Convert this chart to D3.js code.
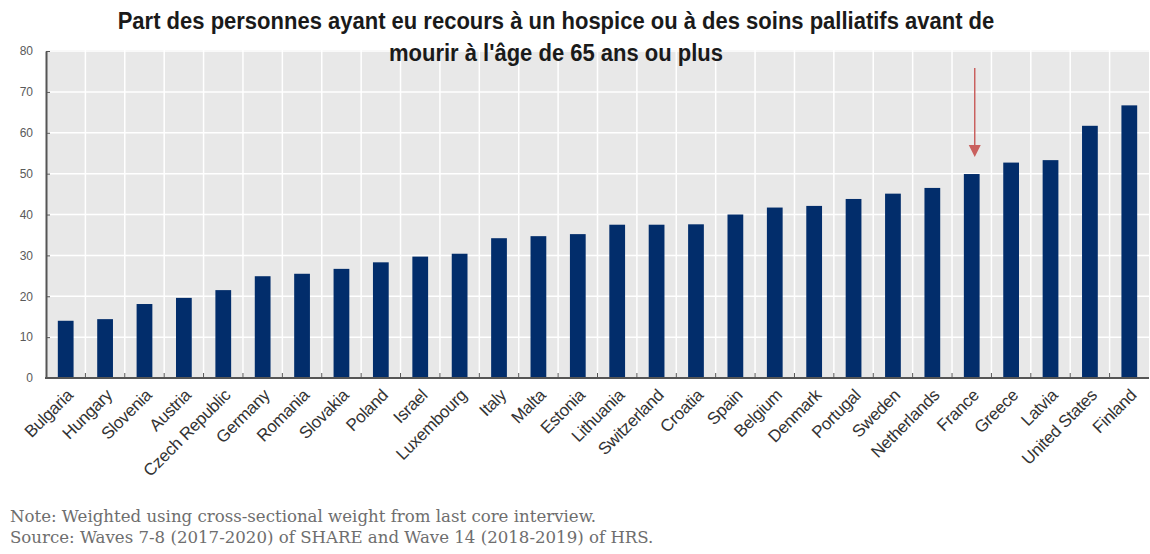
<!DOCTYPE html>
<html>
<head>
  <meta charset="utf-8">
  <title>Hospice / soins palliatifs</title>
  <style>
    body { margin: 0; background: #fff; }
    svg { display: block; }
  </style>
</head>
<body>
  <svg id="chart"></svg>

  <script src="https://d3js.org/d3.v7.min.js"></script>
  <script>
    // données
    const countries = ["Bulgaria", "Hungary", "Slovenia", "Austria", "Czech Republic", "Germany", "Romania",
      "Slovakia", "Poland", "Israel", "Luxembourg", "Italy", "Malta", "Estonia", "Lithuania", "Switzerland",
      "Croatia", "Spain", "Belgium", "Denmark", "Portugal", "Sweden", "Netherlands", "France", "Greece",
      "Latvia", "United States", "Finland"];
    const shares = [14.0, 14.4, 18.1, 19.6, 21.5, 24.9, 25.5, 26.7, 28.3, 29.7, 30.4, 34.2, 34.7, 35.2,
      37.5, 37.5, 37.6, 40.0, 41.7, 42.1, 43.8, 45.1, 46.5, 49.9, 52.7, 53.3, 61.7, 66.7];
    const yTicks = [0, 10, 20, 30, 40, 50, 60, 70, 80];
    const titleLines = ["Part des personnes ayant eu recours à un hospice ou à des soins palliatifs avant de",
      "mourir à l'âge de 65 ans ou plus"];
    const notes = ["Note: Weighted using cross-sectional weight from last core interview.",
      "Source: Waves 7-8 (2017-2020) of SHARE and Wave 14 (2018-2019) of HRS."];
    const highlight = "France";

    const width = 1150, height = 554;
    const plotLeft = 46, plotRight = 1149, plotTop = 50, plotBottom = 378;

    const svg = d3.select("#chart").attr("width", width).attr("height", height);

    const x = d3.scaleBand().domain(countries).range([plotLeft, plotRight]).paddingInner(0.6).paddingOuter(0.3);
    const y = d3.scaleLinear().domain([0, 80]).range([plotBottom, plotTop + 1]);

    // fond
    svg.append("rect").attr("x", plotLeft).attr("y", plotTop)
      .attr("width", plotRight - plotLeft).attr("height", plotBottom - plotTop)
      .attr("fill", "#e8e8e8");

    const bounds = d3.range(countries.length + 1).map(i => plotLeft + i * x.step());

    // grilles
    svg.append("g").selectAll("line").data(yTicks.slice(1)).join("line")
      .attr("x1", plotLeft).attr("x2", plotRight).attr("y1", d => y(d)).attr("y2", d => y(d))
      .attr("stroke", "#fff").attr("stroke-width", 1.5);
    svg.append("g").selectAll("line").data(bounds.slice(1, -1)).join("line")
      .attr("x1", d => d).attr("x2", d => d).attr("y1", plotTop).attr("y2", plotBottom)
      .attr("stroke", "#fff").attr("stroke-width", 1.5);

    // barres
    svg.append("g").selectAll("rect").data(shares).join("rect")
      .attr("x", (d, i) => x(countries[i]))
      .attr("y", d => y(d))
      .attr("width", x.bandwidth())
      .attr("height", d => y(0) - y(d))
      .attr("fill", "#022d6b");

    // axe y
    const yAxis = svg.append("g").attr("transform", `translate(${plotLeft},0)`)
      .call(d3.axisLeft(y).tickValues(yTicks).tickSizeInner(-4).tickSizeOuter(0).tickPadding(13));
    yAxis.select(".domain").attr("stroke", "#555").attr("stroke-width", 2);
    yAxis.selectAll(".tick line").attr("stroke", "#555");
    yAxis.selectAll("text").attr("fill", "#5a5a5a")
      .style("font-family", "'Liberation Sans', Arial, sans-serif").style("font-size", "12px");

    // axe x
    svg.append("line").attr("x1", plotLeft - 1).attr("x2", plotRight).attr("y1", plotBottom).attr("y2", plotBottom)
      .attr("stroke", "#555").attr("stroke-width", 2);
    svg.append("g").selectAll("line").data(bounds.slice(1, -1)).join("line")
      .attr("x1", d => d).attr("x2", d => d).attr("y1", plotBottom - 5).attr("y2", plotBottom)
      .attr("stroke", "#555");

    svg.append("g").selectAll("text").data(countries).join("text")
      .attr("transform", d => `translate(${x(d) + x.bandwidth() / 2 + 4},${plotBottom + 14}) rotate(-45)`)
      .attr("text-anchor", "end")
      .attr("dy", "0.35em")
      .attr("fill", "#333")
      .style("font-family", "'Liberation Sans', Arial, sans-serif")
      .style("font-size", "17px")
      .style("letter-spacing", "-0.3px")
      .text(d => d);

    // flèche sur la France
    const ax = x(highlight) + x.bandwidth() / 2 + 3;
    svg.append("line").attr("x1", ax).attr("x2", ax).attr("y1", 68).attr("y2", 146)
      .attr("stroke", "#c9605e").attr("stroke-width", 1.5);
    svg.append("path").attr("d", `M${ax - 6},145 L${ax + 6},145 L${ax},157 Z`).attr("fill", "#c9605e");

    // titre (police étroite simulée par un écrasement horizontal)
    const titleG = svg.append("g");
    const titleText = titleG.selectAll("text").data(titleLines).join("text")
      .attr("x", 0).attr("y", (d, i) => 29 + i * 32)
      .attr("text-anchor", "middle")
      .attr("fill", "#1a1a1a")
      .style("font-family", "'Liberation Sans Narrow', 'Arial Narrow', 'Liberation Sans', sans-serif")
      .style("font-weight", "bold")
      .style("font-size", "24px")
      .text(d => d);
    const natural = titleText.node().getComputedTextLength();
    titleG.attr("transform", `translate(556,0) scale(${877 / natural},1)`);

    // notes
    svg.append("g").selectAll("text").data(notes).join("text")
      .attr("x", 10).attr("y", (d, i) => 522 + i * 21)
      .attr("fill", "#6e6e6e")
      .style("font-family", "'DejaVu Serif', Georgia, serif")
      .style("font-size", "16.6px")
      .text(d => d);
  </script>
</body>
</html>
